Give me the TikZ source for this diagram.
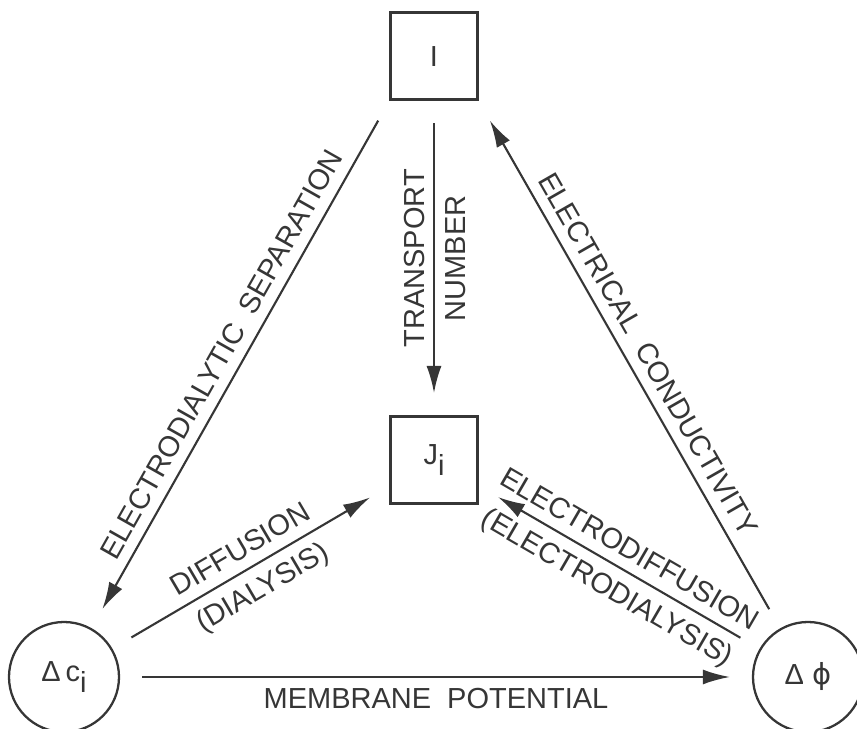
\documentclass[tikz,border=0pt]{standalone}
\usepackage{fontspec}
\setmainfont{Liberation Sans}
\newfontfamily\phifont{DejaVu Sans}
\usepackage{tikz}
\usetikzlibrary{arrows.meta}

\definecolor{ink}{HTML}{363636}

\tikzset{
  >={Latex[length=0.54cm,width=0.3cm]},
  quantity/.style={draw=ink, line width=1.7pt, minimum size=1.74cm, inner sep=0pt},
  potential/.style={draw=ink, circle, line width=1.3pt, minimum size=2.2cm, inner sep=0pt},
  relation/.style={draw=ink, line width=1.2pt, ->, shorten <=0.44cm, shorten >=0.44cm},
  lbl/.style={sloped, inner sep=0.3em}
}

\begin{document}
\begin{tikzpicture}[every node/.style={text=ink, font=\fontsize{16.5}{19}\selectfont}]
\useasboundingbox (0,0) rectangle (17.14,14.58);

% the four quantities
\node[quantity] (I) at (8.68,13.45) {I};
\node[quantity] (J) at (8.68,5.38) {J\raisebox{-0.35em}{i}};
\node[potential] (ci) at (1.28,1.04) {Δ\,c\raisebox{-0.35em}{i}};
\node[potential] (phi) at (16.16,1.04) {Δ {\phifont ϕ}};

% relations between them
\draw[relation] (I.south west) -- node[lbl, above=0.1cm] (sep) {ELECTRODIALYTIC\ \ SEPARATION} (ci);
\draw[relation, <-] (J.north) -- node[lbl, above=0.05cm] (tn1) {TRANSPORT}
                                 node[lbl, below=0.1cm] (tn2) {NUMBER} (I.south);
\draw[relation] (phi) -- node[lbl, above=0.1cm] (cond) {ELECTRICAL\ \ CONDUCTIVITY} (I.south east);
\draw[relation] (ci) -- node[lbl, above=0.1cm] (diff) {DIFFUSION}
                        node[lbl, below=0.1cm] (dial) {(DIALYSIS)} (J);
\draw[relation] (phi) -- node[lbl, above=0.1cm] (ediff) {ELECTRODIFFUSION}
                         node[lbl, below=0.1cm] (edial) {(ELECTRODIALYSIS)} (J);
\draw[relation] (ci) -- node[lbl, below=0.1cm] (memb) {MEMBRANE\ \ POTENTIAL} (phi);
\end{tikzpicture}
\end{document}
